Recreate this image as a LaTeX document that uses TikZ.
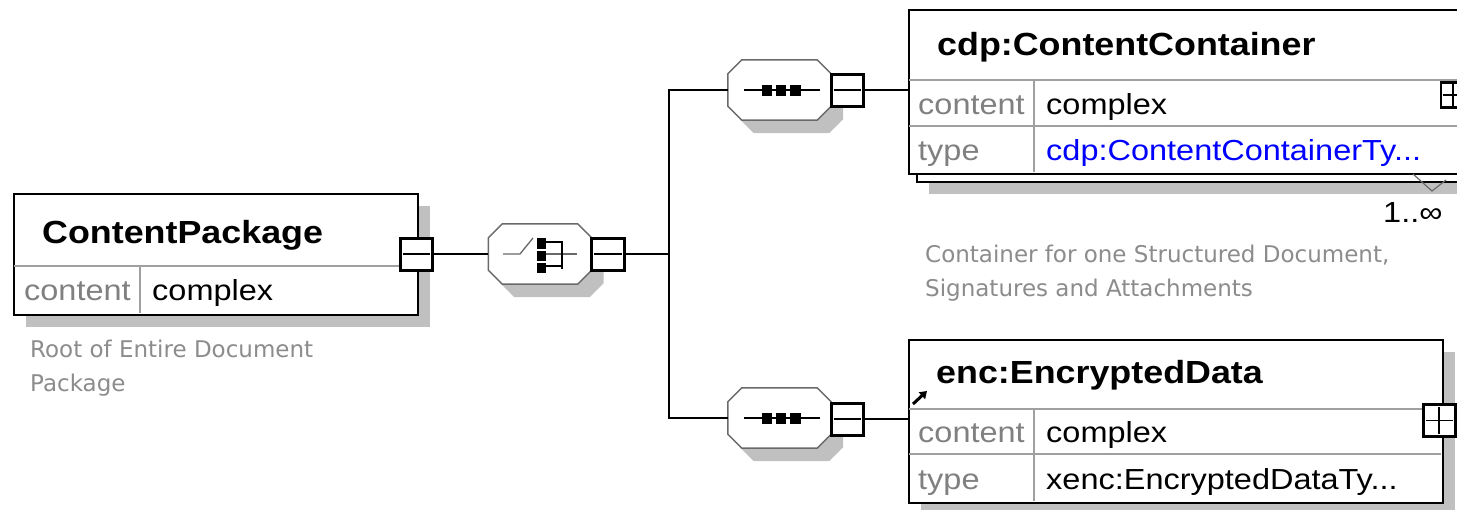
\documentclass[tikz,border=0pt]{standalone}
\usepackage{fontspec}
\setmainfont{Liberation Sans}[FakeStretch=1.12]
\newfontfamily\notefont{DejaVu Sans}
\usetikzlibrary{arrows.meta,calc,shadows}
\definecolor{shadowc}{RGB}{192,192,192}
\definecolor{octc}{RGB}{105,105,105}
\definecolor{divc}{RGB}{160,160,160}
\definecolor{labc}{RGB}{128,128,128}
\definecolor{notec}{RGB}{140,140,140}
\definecolor{typeblue}{RGB}{0,0,255}
\newcommand\octa[1]{%
  \fill[shadowc] ([shift={(26,13)}]#1.north west) -- ([shift={(-2,13)}]#1.north east) -- ([shift={(12,27)}]#1.north east) -- ([shift={(12,-1)}]#1.south east) -- ([shift={(-2,13)}]#1.south east) -- ([shift={(26,13)}]#1.south west) -- ([shift={(12,-1)}]#1.south west) -- ([shift={(12,27)}]#1.north west) -- cycle;
  \filldraw[octline] ([shift={(14,0)}]#1.north west) -- ([shift={(-14,0)}]#1.north east) -- ([shift={(0,14)}]#1.north east) -- ([shift={(0,-14)}]#1.south east) -- ([shift={(-14,0)}]#1.south east) -- ([shift={(14,0)}]#1.south west) -- ([shift={(0,-14)}]#1.south west) -- ([shift={(0,14)}]#1.north west) -- cycle;}
\newcommand\seqsym[1]{%
  \draw[line width=1.3pt] ([shift={(-36,0)}]#1.center) -- ([shift={(40,0)}]#1.center);
  \fill ([shift={(-17.5,-5.5)}]#1.center) rectangle ([shift={(-7.5,5.5)}]#1.center);
  \fill ([shift={(-3.5,-5.5)}]#1.center) rectangle ([shift={(6.5,5.5)}]#1.center);
  \fill ([shift={(10.5,-5.5)}]#1.center) rectangle ([shift={(21,5.5)}]#1.center);}
\tikzset{
  x=1pt, y=-1pt,
  elembox/.style={draw=black, line width=1.5pt, fill=white, inner sep=0pt, anchor=north west},
  shadowed/.style={general shadow={fill=shadowc, shadow xshift=12pt, shadow yshift=-12pt}},
  divline/.style={draw=divc, line width=1.5pt},
  octnode/.style={inner sep=0pt, minimum width=103, minimum height=60},
  octline/.style={draw=octc, fill=white, line width=1.5pt},
  minusbox/.style={draw=black, fill=white, line width=3pt, inner sep=0pt, minimum width=32, minimum height=32},
  conn/.style={draw=black, line width=1.3pt},
  title/.style={font=\fontsize{32}{38}\selectfont\bfseries, inner sep=0pt, anchor=base west},
  val/.style={font=\fontsize{29}{34}\selectfont, inner sep=0pt, anchor=base west},
  lab/.style={val, text=labc},
  note/.style={font=\notefont\fontsize{23}{34}\selectfont, text=notec, inner sep=0pt, anchor=base west},
}
\begin{document}
\begin{tikzpicture}
\useasboundingbox (0,0) rectangle (1457,509);
\clip (0,0) rectangle (1457,509);
\fill[white] (0,0) rectangle (1457,509);

% ContentPackage
\node[elembox, shadowed, minimum width=404, minimum height=121] (cp) at (13,193) {};
\draw[divline] (14,266) -- (416,266);
\draw[divline] (140,266) -- (140,313);
\node[title] (cpt) at (42,243) {ContentPackage};
\node[lab] (cpl) at (24,300) {content};
\node[val] (cpv) at (152,300) {complex};
\node[note] (cpn1) at (30,357) {Root of Entire Document};
\node[note] (cpn2) at (30,391) {Package};

% cdp:ContentContainer (repeated)
\node[elembox, shadowed, minimum width=580, minimum height=164] (cdpb) at (916,17) {};
\node[elembox, minimum width=580, minimum height=164] (cdp) at (908,9) {};
\draw[divline] (909,80) -- (1457,80);
\draw[divline] (909,126) -- (1457,126);
\draw[divline] (1034,80) -- (1034,172);
\node[title] (cdpt) at (937,55) {cdp:ContentContainer};
\node[lab] (cdpl1) at (918,114) {content};
\node[val] (cdpv1) at (1046,114) {complex};
\node[lab] (cdpl2) at (918,160) {type};
\node[val, text=typeblue] (cdpv2) at (1046,160) {cdp:ContentContainerTy...};
\node[draw=black, fill=white, line width=2.6pt, inner sep=0pt, minimum width=24, minimum height=25] (cdpp) at (1453,95) {};
\draw[line width=1.1pt] ([xshift=3pt]cdpp.west) -- ([xshift=-3pt]cdpp.east);
\draw[line width=1.1pt] ([shift={(0,3)}]cdpp.north) -- ([shift={(0,-3)}]cdpp.south);
\coordinate (vL) at (1413,174);
\coordinate (vB) at (1432,191);
\coordinate (vR) at (1446,180);
\draw[draw=octc, line width=1.2pt] (vL) -- (vB) -- (vR);
\node[val] (occ) at (1383,222) {1..∞};
\node[note] (cdpn1) at (925,262) {Container for one Structured Document,};
\node[note] (cdpn2) at (925,296) {Signatures and Attachments};

% enc:EncryptedData
\node[elembox, shadowed, minimum width=534, minimum height=163] (enc) at (908,339) {};
\draw[divline] (909,409) -- (1441,409);
\draw[divline] (909,454) -- (1441,454);
\draw[divline] (1034,409) -- (1034,501);
\node[title] (enct) at (936,383) {enc:EncryptedData};
\node[lab] (encl1) at (918,442) {content};
\node[val] (encv1) at (1046,442) {complex};
\node[lab] (encl2) at (918,489) {type};
\node[val] (encv2) at (1046,489) {xenc:EncryptedDataTy...};
\node[minusbox] (encp) at (1439,420.5) {};
\draw[line width=1.2pt] ([xshift=4pt]encp.west) -- ([xshift=-4pt]encp.east);
\draw[line width=1.2pt] ([shift={(0,4)}]encp.north) -- ([shift={(0,-4)}]encp.south);
\coordinate (arrS) at (913,404);
\coordinate (arrE) at (927,391);
\draw[line width=3pt, -{Triangle[length=7pt,width=9pt]}] (arrS) -- (arrE);

% compositors
\node[octnode] (ch) at (540,254) {};
\octa{ch}
\node[octnode] (s1) at (779.5,90) {};
\octa{s1}
\node[octnode] (s2) at (779.5,418) {};
\octa{s2}
\seqsym{s1}
\seqsym{s2}

% choice symbol
\draw[draw=octc, line width=1.3pt] ([shift={(-37,0)}]ch.center) -- ([shift={(-20,0)}]ch.center) -- ([shift={(-7,-16)}]ch.center);
\draw[draw=octc, line width=1.3pt] ([shift={(6,0)}]ch.center) -- ([shift={(37,0)}]ch.center);
\draw[line width=1.3pt] ([shift={(6,-12)}]ch.center) -- ([shift={(22,-12)}]ch.center) -- ([shift={(22,15)}]ch.center);
\draw[line width=1.3pt] ([shift={(6,12)}]ch.center) -- ([shift={(22,12)}]ch.center);
\fill ([shift={(-3,-16)}]ch.center) rectangle ([shift={(6,-5)}]ch.center);
\fill ([shift={(-3,-3)}]ch.center) rectangle ([shift={(6,7)}]ch.center);
\fill ([shift={(-3,9)}]ch.center) rectangle ([shift={(6,19)}]ch.center);

% minus boxes
\node[minusbox] (m0) at (416,254) {};
\draw[line width=1.2pt] ([xshift=4pt]m0.west) -- ([xshift=-4pt]m0.east);
\node[minusbox, minimum width=33] (m1) at (607.5,254) {};
\draw[line width=1.2pt] ([xshift=4pt]m1.west) -- ([xshift=-4pt]m1.east);
\node[minusbox] (s1m) at (847,90) {};
\draw[line width=1.2pt] ([xshift=4pt]s1m.west) -- ([xshift=-4pt]s1m.east);
\node[minusbox] (s2m) at (847,419) {};
\draw[line width=1.2pt] ([xshift=4pt]s2m.west) -- ([xshift=-4pt]s2m.east);

% connectors
\coordinate (trunk) at (669,254);
\draw[conn] (m0.east) -- (ch.west);
\draw[conn] (m1.east) -- (trunk);
\draw[conn] (s1.west) -| (trunk) |- (s2.west);
\draw[conn] (s1m.east) -- (s1m.east -| cdp.west);
\draw[conn] (s2m.east) -- (s2m.east -| enc.west);
\end{tikzpicture}
\end{document}
